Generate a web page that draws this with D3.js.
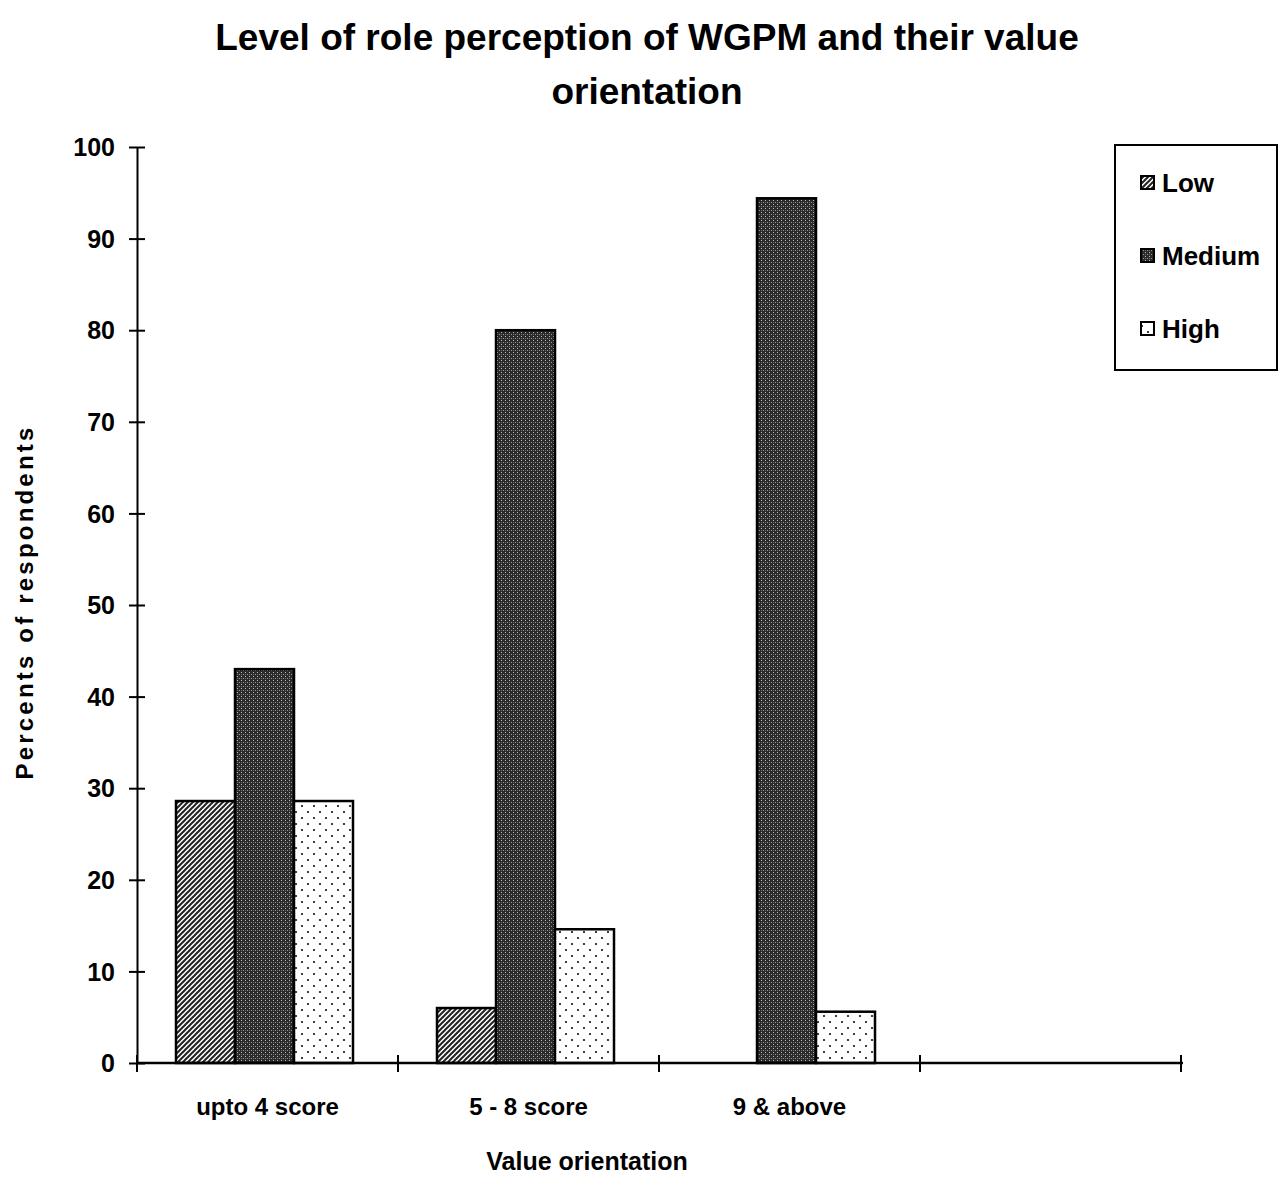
<!DOCTYPE html>
<html><head><meta charset="utf-8">
<script src="https://cdn.jsdelivr.net/npm/d3@7"></script>
<style>body{margin:0;background:#fff}svg{display:block}</style>
</head><body>
<script>
const categories = ["upto 4 score", "5 - 8 score", "9 & above", ""];
const seriesNames = ["Low", "Medium", "High"];
const lowValues = [28.6, 6.0, 0];
const mediumValues = [43.0, 80.0, 94.4];
const highValues = [28.6, 14.6, 5.6];
const yTicks = [0,10,20,30,40,50,60,70,80,90,100];

const W = 1281, H = 1178;
const font = "'Liberation Sans Narrow','Arial Narrow','Liberation Sans',sans-serif";
const svg = d3.select("body").append("svg").attr("width", W).attr("height", H);
const defs = svg.append("defs");

// patterns
const pLow = defs.append("pattern").attr("id","pLow").attr("patternUnits","userSpaceOnUse").attr("width",5).attr("height",5);
pLow.append("rect").attr("width",5).attr("height",5).attr("fill","#fff");
pLow.append("path").attr("d","M-1,6 L6,-1 M-1,1 L1,-1 M4,6 L6,4").attr("stroke","#222").attr("stroke-width",2);
const pMed = defs.append("pattern").attr("id","pMed").attr("patternUnits","userSpaceOnUse").attr("width",4).attr("height",4);
pMed.append("rect").attr("width",4).attr("height",4).attr("fill","#2a2a2a");
pMed.append("rect").attr("x",1).attr("y",0).attr("width",1).attr("height",1).attr("fill","#bbb");
pMed.append("rect").attr("x",3).attr("y",2).attr("width",1).attr("height",1).attr("fill","#999");
pMed.append("rect").attr("x",1).attr("y",2).attr("width",1).attr("height",1).attr("fill","#666");
const pHigh = defs.append("pattern").attr("id","pHigh").attr("patternUnits","userSpaceOnUse").attr("width",12).attr("height",12);
pHigh.append("rect").attr("width",12).attr("height",12).attr("fill","#fff");
pHigh.append("circle").attr("cx",2).attr("cy",2).attr("r",1.1).attr("fill","#111");
pHigh.append("circle").attr("cx",8).attr("cy",8).attr("r",1.1).attr("fill","#111");
const fills = ["url(#pLow)","url(#pMed)","url(#pHigh)"];

const x0 = d3.scaleBand().domain(categories.map((c,i)=>i)).range([137,1181]).paddingInner(0).paddingOuter(0);
const x1 = d3.scaleBand().domain(seriesNames).range([39, 216]).padding(0);
const y = d3.scaleLinear().domain([0,100]).range([1063,147]);

// title
svg.append("text").attr("x",647).attr("y",50).attr("text-anchor","middle").attr("font-family",font).attr("font-weight","bold").attr("font-size",37).text("Level of role perception of WGPM and their value");
svg.append("text").attr("x",647).attr("y",104).attr("text-anchor","middle").attr("font-family",font).attr("font-weight","bold").attr("font-size",37).text("orientation");

// bars
const allVals = [lowValues, mediumValues, highValues];
const g = svg.append("g");
categories.forEach((c,ci)=>{
  if (ci >= lowValues.length) return;
  seriesNames.forEach((s,si)=>{
    const v = allVals[si][ci];
    if (!v) return;
    g.append("rect").attr("x", x0(ci)+x1(s)).attr("y", y(v)).attr("width", x1.bandwidth()).attr("height", y(0)-y(v))
      .attr("fill", fills[si]).attr("stroke","#000").attr("stroke-width",2.5);
  });
});

// y axis
const yAxis = d3.axisLeft(y).tickValues(yTicks).tickSize(0).tickPadding(0);
const ya = svg.append("g").attr("transform","translate(137,0)").call(yAxis);
ya.select(".domain").attr("stroke","#000").attr("stroke-width",2);
ya.selectAll(".tick text").remove();
ya.selectAll(".tick").append("line").attr("x1",-8).attr("x2",8).attr("stroke","#000").attr("stroke-width",2);
ya.selectAll(".tick").append("text").attr("x",-22).attr("dy","0.35em").attr("text-anchor","end")
  .attr("font-family",font).attr("font-weight","bold").attr("font-size",25).attr("fill","#000").text(d=>d);

// x axis
const xTickPos = d3.range(categories.length+1).map(i => i===categories.length ? x0.range()[1] : x0(i));
const xa = svg.append("g");
xa.append("line").attr("x1",137).attr("x2",1183).attr("y1",y(0)).attr("y2",y(0)).attr("stroke","#000").attr("stroke-width",2.5);
xa.selectAll("line.t").data(xTickPos).enter().append("line").attr("class","t")
  .attr("x1",d=>d).attr("x2",d=>d).attr("y1",y(0)-8).attr("y2",y(0)+9).attr("stroke","#000").attr("stroke-width",2);
xa.selectAll("text").data(categories).enter().append("text")
  .attr("x",(d,i)=>x0(i)+x0.bandwidth()/2).attr("y",1115).attr("text-anchor","middle")
  .attr("font-family",font).attr("font-weight","bold").attr("font-size",24).text(d=>d);

// axis titles
svg.append("text").attr("x",587).attr("y",1170).attr("text-anchor","middle").attr("font-family",font).attr("font-weight","bold").attr("font-size",25).text("Value orientation");
svg.append("text").attr("transform","translate(33,602) rotate(-90)").attr("text-anchor","middle").attr("font-family",font).attr("font-weight","bold").attr("font-size",24).attr("letter-spacing",3.2).text("Percents of respondents");

// legend
const lg = svg.append("g");
lg.append("rect").attr("x",1115).attr("y",145).attr("width",162).attr("height",225).attr("fill","#fff").attr("stroke","#000").attr("stroke-width",2);
seriesNames.forEach((s,i)=>{
  const cy = 183 + i*73;
  lg.append("rect").attr("x",1141).attr("y",cy-7).attr("width",13).attr("height",13).attr("fill",fills[i]).attr("stroke","#000").attr("stroke-width",2);
  lg.append("text").attr("x",1162).attr("y",cy).attr("dy","0.35em").attr("font-family",font).attr("font-weight","bold").attr("font-size",26).text(s);
});
</script>
</body></html>
